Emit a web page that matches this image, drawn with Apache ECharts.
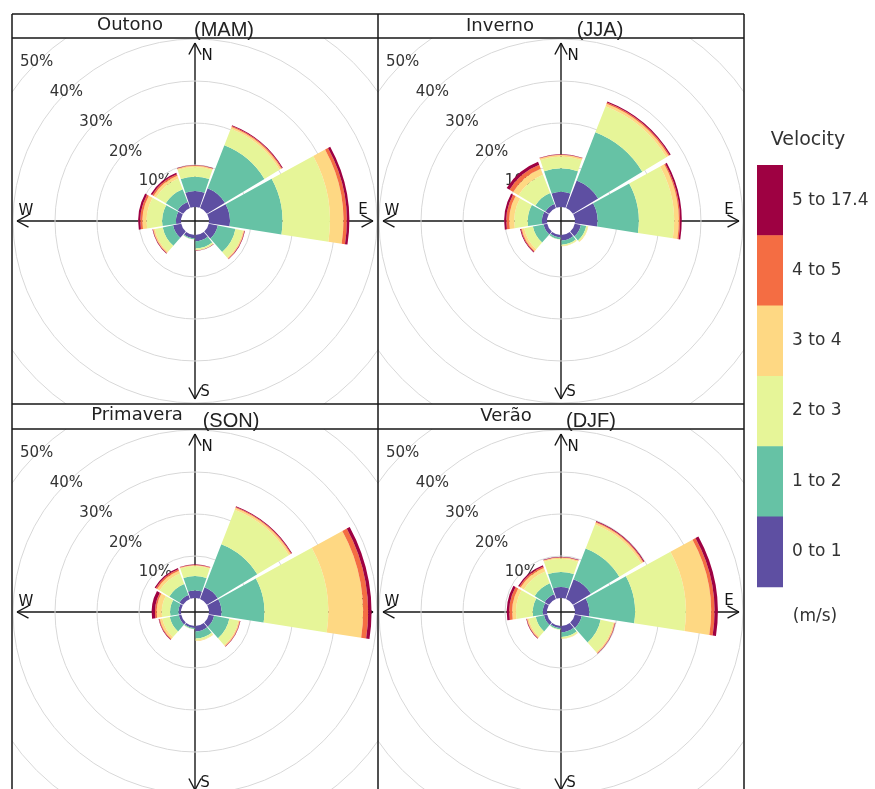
<!DOCTYPE html>
<html>
<head>
<meta charset="utf-8">
<title>Wind roses by season</title>
<script src="https://cdn.jsdelivr.net/npm/echarts@6/dist/echarts.min.js"></script>
<style>
  html, body { margin: 0; padding: 0; background: #fff; }
  #page { position: relative; width: 875px; height: 789px; overflow: hidden; background: #fff; }
  .panel { position: absolute; }
  #frame { position: absolute; left: 0; top: 0; width: 875px; height: 789px; z-index: 5; pointer-events: none; }
</style>
</head>
<body>
<div id="page">
  <div id="frame"></div>
</div>
<script>
// Direction sectors (degrees, clockwise from north), 40-degree bins
const directions = [0, 40, 80, 120, 160, 200, 240, 280, 320];

// Wind speed classes (m/s) and their colours
const speedClasses = ['0 to 1', '1 to 2', '2 to 3', '3 to 4', '4 to 5', '5 to 17.4'];
const speedColors = ['#5E4FA2', '#66C2A5', '#E6F598', '#FED883', '#F46D43', '#9E0142'];

// Ring labels (percent of time)
const ringTicks = [0, 10, 20, 30, 40, 50, 60];

// Frequency (%) per speed class (rows) and direction sector (columns)
const MAM = [
  [3.8, 5.0, 5.0, 2.2, 1.5, 0.8, 2.0, 1.2, 1.5],
  [3.4, 11.0, 12.5, 4.3, 1.7, 0.2, 2.5, 3.3, 3.3],
  [2.3, 4.2, 11.3, 1.8, 0.4, 0.1, 1.9, 3.7, 2.7],
  [0.3, 0.5, 3.2, 0.3, 0.1, 0.0, 0.4, 1.0, 0.7],
  [0.1, 0.2, 0.8, 0.1, 0.0, 0.0, 0.1, 0.5, 0.4],
  [0.1, 0.2, 0.6, 0.1, 0.1, 0.0, 0.1, 0.5, 0.4]
];
const JJA = [
  [3.6, 7.0, 5.4, 1.5, 1.3, 0.6, 0.9, 1.2, 1.0],
  [5.6, 12.3, 9.8, 1.3, 1.0, 0.4, 2.6, 3.4, 2.8],
  [2.8, 6.7, 8.4, 0.4, 0.3, 0.1, 2.1, 3.2, 4.7],
  [0.4, 0.6, 1.1, 0.1, 0.1, 0.0, 0.6, 1.2, 1.5],
  [0.1, 0.3, 0.3, 0.0, 0.0, 0.0, 0.2, 0.7, 1.0],
  [0.1, 0.3, 0.4, 0.0, 0.0, 0.0, 0.2, 0.5, 0.8]
];
const SON = [
  [1.8, 3.0, 3.0, 1.3, 1.3, 0.5, 0.6, 0.6, 1.0],
  [3.4, 11.0, 10.2, 3.7, 1.7, 0.2, 2.2, 2.0, 2.8],
  [2.4, 8.8, 15.2, 2.2, 0.5, 0.1, 1.8, 2.0, 2.7],
  [0.2, 0.5, 8.3, 0.3, 0.1, 0.0, 0.6, 1.2, 0.7],
  [0.1, 0.2, 1.2, 0.1, 0.0, 0.0, 0.2, 0.4, 0.4],
  [0.1, 0.2, 0.8, 0.1, 0.0, 0.0, 0.1, 0.8, 0.3]
];
const DJF = [
  [2.6, 5.0, 3.4, 1.7, 1.5, 0.5, 0.8, 1.0, 1.2],
  [3.6, 7.9, 10.9, 4.6, 1.1, 0.3, 2.0, 2.4, 2.8],
  [3.1, 6.1, 12.1, 3.1, 0.4, 0.1, 1.7, 4.0, 3.0],
  [0.3, 0.5, 6.0, 0.3, 0.1, 0.0, 0.4, 0.9, 0.9],
  [0.1, 0.2, 0.8, 0.1, 0.0, 0.0, 0.1, 0.7, 0.4],
  [0.1, 0.2, 0.8, 0.1, 0.0, 0.0, 0.1, 0.6, 0.3]
];

// Panel titles
const seasonNames = ['Outono', 'Inverno', 'Primavera', 'Verão'];
const seasonMonths = ['(MAM)', '(JJA)', '(SON)', '(DJF)'];
const seasonData = [MAM, JJA, SON, DJF];

// ---- layout ----
const FRAME_LEFT = 12, FRAME_TOP = 14, STRIP_H = 24, PANEL = 366, STRIP2_H = 25;
const colX = [FRAME_LEFT, FRAME_LEFT + PANEL];
const rowStripTop = [FRAME_TOP, FRAME_TOP + STRIP_H + PANEL];
const rowPlotTop = [FRAME_TOP + STRIP_H, FRAME_TOP + STRIP_H + PANEL + STRIP2_H];
const C = PANEL / 2;
const HOLE = 14;          // inner offset radius, px
const PX_PER_PCT = 4.2;   // ring scale
const R_MAX = 60;
const ARM = 178, HEAD = 13, HEAD_ANG = 28 * Math.PI / 180;
const INK = '#161616';

function crossElements() {
  const stroke = { stroke: INK, lineWidth: 1.4 };
  const els = [
    { type: 'line', silent: true, shape: { x1: C, y1: C - ARM, x2: C, y2: C + ARM }, style: stroke },
    { type: 'line', silent: true, shape: { x1: C - ARM, y1: C, x2: C + ARM, y2: C }, style: stroke }
  ];
  [[0, -1], [1, 0], [0, 1], [-1, 0]].forEach(([ux, uy]) => {
    const tx = C + ux * ARM, ty = C + uy * ARM;
    const back = Math.atan2(-uy, -ux);
    [-1, 1].forEach(s => {
      const a = back + s * HEAD_ANG;
      els.push({ type: 'line', silent: true,
        shape: { x1: tx, y1: ty, x2: tx + HEAD * Math.cos(a), y2: ty + HEAD * Math.sin(a) },
        style: stroke });
    });
  });
  const compass = [['N', 12, -165], ['E', 168, -11], ['S', 10, 171], ['W', -169, -10]];
  compass.forEach(([t, dx, dy]) => {
    els.push({ type: 'text', silent: true, x: C + dx, y: C + dy,
      style: { text: t, fill: INK, font: '15px "DejaVu Sans"', align: 'center', verticalAlign: 'middle',
               textAlign: 'center', textVerticalAlign: 'middle' } });
  });
  return els;
}

function panelOption(rows) {
  const radius = [HOLE, HOLE + PX_PER_PCT * R_MAX];
  const ringColors = ringTicks.map(v => v === 0 ? 'rgba(0,0,0,0)' : '#d8d8d8');
  return {
    animation: false,
    polar: [
      { center: ['50%', '50%'], radius: radius },
      { center: ['50%', '50%'], radius: radius }
    ],
    angleAxis: [
      { polarIndex: 0, type: 'category', data: directions.map(String), startAngle: 90 + 20, clockwise: true,
        axisLine: { show: false }, axisTick: { show: false }, axisLabel: { show: false }, splitLine: { show: false } },
      { polarIndex: 1, type: 'value', min: 0, max: 360, startAngle: 135, show: false }
    ],
    radiusAxis: [
      { polarIndex: 0, type: 'value', min: 0, max: R_MAX, show: false },
      { polarIndex: 1, type: 'value', min: 0, max: R_MAX, interval: 10,
        axisLine: { show: false }, axisTick: { show: false },
        splitLine: { show: true, lineStyle: { color: ringColors, width: 1 } },
        axisLabel: { show: true, margin: 0, color: '#333', fontSize: 15, fontFamily: 'DejaVu Sans',
                     align: 'center', verticalAlign: 'middle', showMinLabel: true, showMaxLabel: true,
                     formatter: v => v === 0 ? '' : v + '%' } }
    ],
    series: speedClasses.map((name, k) => ({
      name: name, type: 'bar', coordinateSystem: 'polar', polarIndex: 0, stack: 'speed',
      data: rows[k], barCategoryGap: '6%', silent: true,
      itemStyle: { color: speedColors[k] }
    })),
    graphic: crossElements()
  };
}

const page = document.getElementById('page');
seasonData.forEach((rows, i) => {
  const div = document.createElement('div');
  div.className = 'panel';
  div.style.left = colX[i % 2] + 'px';
  div.style.top = rowPlotTop[Math.floor(i / 2)] + 'px';
  div.style.width = PANEL + 'px';
  div.style.height = PANEL + 'px';
  page.insertBefore(div, document.getElementById('frame'));
  echarts.init(div, null, { renderer: 'canvas' }).setOption(panelOption(rows));
});

// ---- frame, strip titles and colour key ----
const frameEls = [];
const lineStyle = { stroke: INK, lineWidth: 1.5 };
const right = FRAME_LEFT + 2 * PANEL;
[rowStripTop[0], rowPlotTop[0], rowStripTop[1], rowPlotTop[1]].forEach(y => {
  frameEls.push({ type: 'line', shape: { x1: FRAME_LEFT, y1: y, x2: right, y2: y }, style: lineStyle });
});
[FRAME_LEFT, FRAME_LEFT + PANEL, right].forEach(x => {
  frameEls.push({ type: 'line', shape: { x1: x, y1: FRAME_TOP, x2: x, y2: 800 }, style: lineStyle });
});

// strip titles: season name plus the months added beside it
const nameOffsets = [[118, 11], [122, 12], [125, 11.5], [128, 12]];
const monthOffsets = [[212, 16.5], [222, 16.5], [219, 17], [213, 17]];
seasonNames.forEach((name, i) => {
  const x0 = colX[i % 2], y0 = rowStripTop[Math.floor(i / 2)];
  frameEls.push({ type: 'text', x: x0 + nameOffsets[i][0], y: y0 + nameOffsets[i][1],
    style: { text: name, fill: '#222', font: '18px "DejaVu Sans"', align: 'center', verticalAlign: 'middle',
             textAlign: 'center', textVerticalAlign: 'middle' } });
  frameEls.push({ type: 'text', x: x0 + monthOffsets[i][0], y: y0 + monthOffsets[i][1],
    style: { text: seasonMonths[i], fill: '#222', font: '20px "Liberation Sans"', align: 'center', verticalAlign: 'middle',
             textAlign: 'center', textVerticalAlign: 'middle' } });
});

// colour key
const KEY_X = 757, KEY_TOP = 165, KEY_W = 26, KEY_H = 70.3;
frameEls.push({ type: 'text', x: 808, y: 140,
  style: { text: 'Velocity', fill: '#333', font: '19px "DejaVu Sans"', align: 'center', verticalAlign: 'middle',
           textAlign: 'center', textVerticalAlign: 'middle' } });
for (let k = speedClasses.length - 1, j = 0; k >= 0; k--, j++) {
  frameEls.push({ type: 'rect', shape: { x: KEY_X, y: KEY_TOP + j * KEY_H, width: KEY_W, height: KEY_H + 0.5 },
    style: { fill: speedColors[k] } });
  frameEls.push({ type: 'text', x: 792, y: KEY_TOP + j * KEY_H + KEY_H / 2,
    style: { text: speedClasses[k], fill: '#333', font: '17px "DejaVu Sans"', align: 'left', verticalAlign: 'middle',
             textAlign: 'left', textVerticalAlign: 'middle' } });
}
frameEls.push({ type: 'text', x: 815, y: 617,
  style: { text: '(m/s)', fill: '#333', font: '17px "DejaVu Sans"', align: 'center', verticalAlign: 'middle',
           textAlign: 'center', textVerticalAlign: 'middle' } });

echarts.init(document.getElementById('frame')).setOption({ animation: false, graphic: { elements: frameEls } });
</script>
</body>
</html>
